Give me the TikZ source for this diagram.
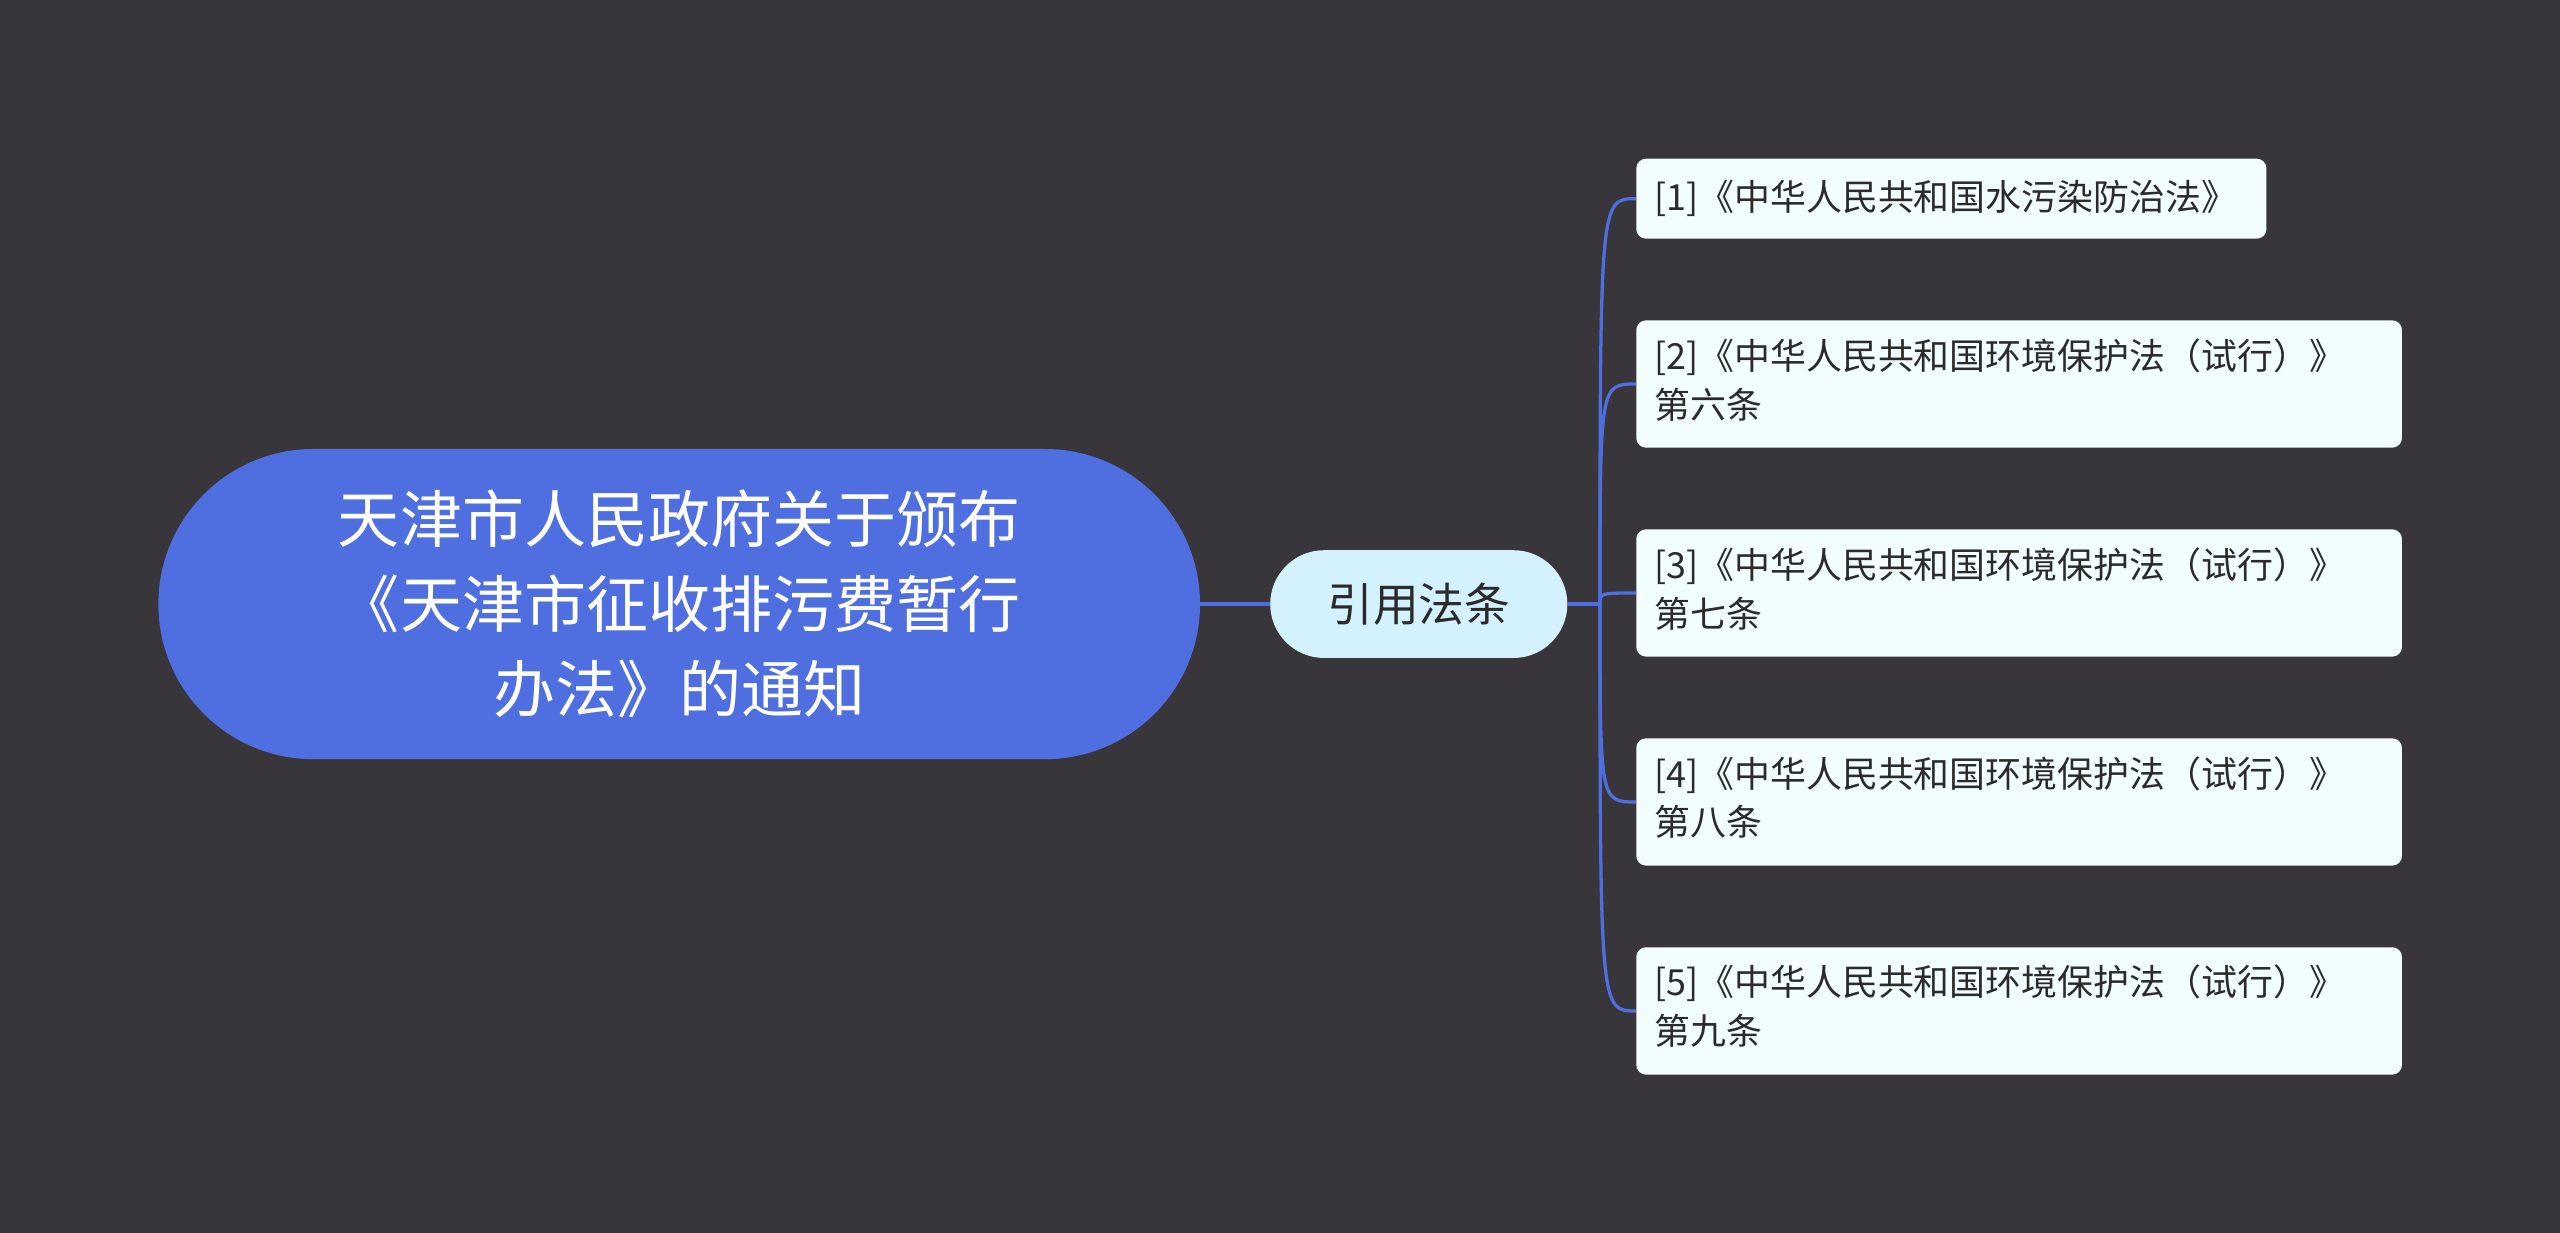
\documentclass[tikz,border=0pt]{standalone}
\usepackage{fontspec}
\setmainfont{Noto Sans CJK SC}
\usetikzlibrary{shapes.misc}
\definecolor{bg}{HTML}{38363A}
\definecolor{rootc}{HTML}{4F6FE0}
\definecolor{midc}{HTML}{D3F2FD}
\definecolor{leafc}{HTML}{F1FDFF}
\definecolor{txt}{HTML}{2B2B2B}
\begin{document}
\begin{tikzpicture}[x=1pt,y=-1pt,
  leafbox/.style={draw=none,fill=leafc,rounded corners=6pt,anchor=north west,inner sep=0pt},
  leaftext/.style={text=txt,align=left,font=\fontsize{22}{30}\selectfont,inner sep=0pt},
  link/.style={draw=rootc,line width=2pt}]
\fill[bg] (0,0) rectangle (1568,755);
\useasboundingbox (0,0) rectangle (1568,755);
\node[rounded rectangle,fill=rootc,minimum width=638pt,minimum height=190pt,text=white,align=center,font=\fontsize{38}{52}\selectfont,inner sep=0pt] (root) at (416,370) {天津市人民政府关于颁布\\《天津市征收排污费暂行\\办法》的通知};
\node[rounded rectangle,fill=midc,minimum width=182pt,minimum height=66pt,text=txt,font=\fontsize{28}{34}\selectfont,inner sep=0pt] (mid) at (869,370) {引用法条};
\node[leafbox,minimum width=386pt,minimum height=49pt] (l1) at (1002,97) {};
\node[leaftext,anchor=west] at (1013,121.5) {[1]《中华人民共和国水污染防治法》};
\foreach \i/\y/\n in {2/196/六,3/324/七,4/452/八,5/580/九}{
  \node[leafbox,minimum width=469pt,minimum height=78pt] (l\i) at (1002,\y) {};
  \node[leaftext,anchor=north west] at (1013,\y+11) {[\i]《中华人民共和国环境保护法（试行）》\\第\n 条};
}
\coordinate (br) at (980,370);
\draw[link] (root.east) -- (mid.west);
\draw[link] (mid.east) -- (br);
\foreach \i in {1,2,3,4,5}{
  \draw[link] (br) .. controls (br|-l\i.west) .. (l\i.west);
}
\end{tikzpicture}
\end{document}
